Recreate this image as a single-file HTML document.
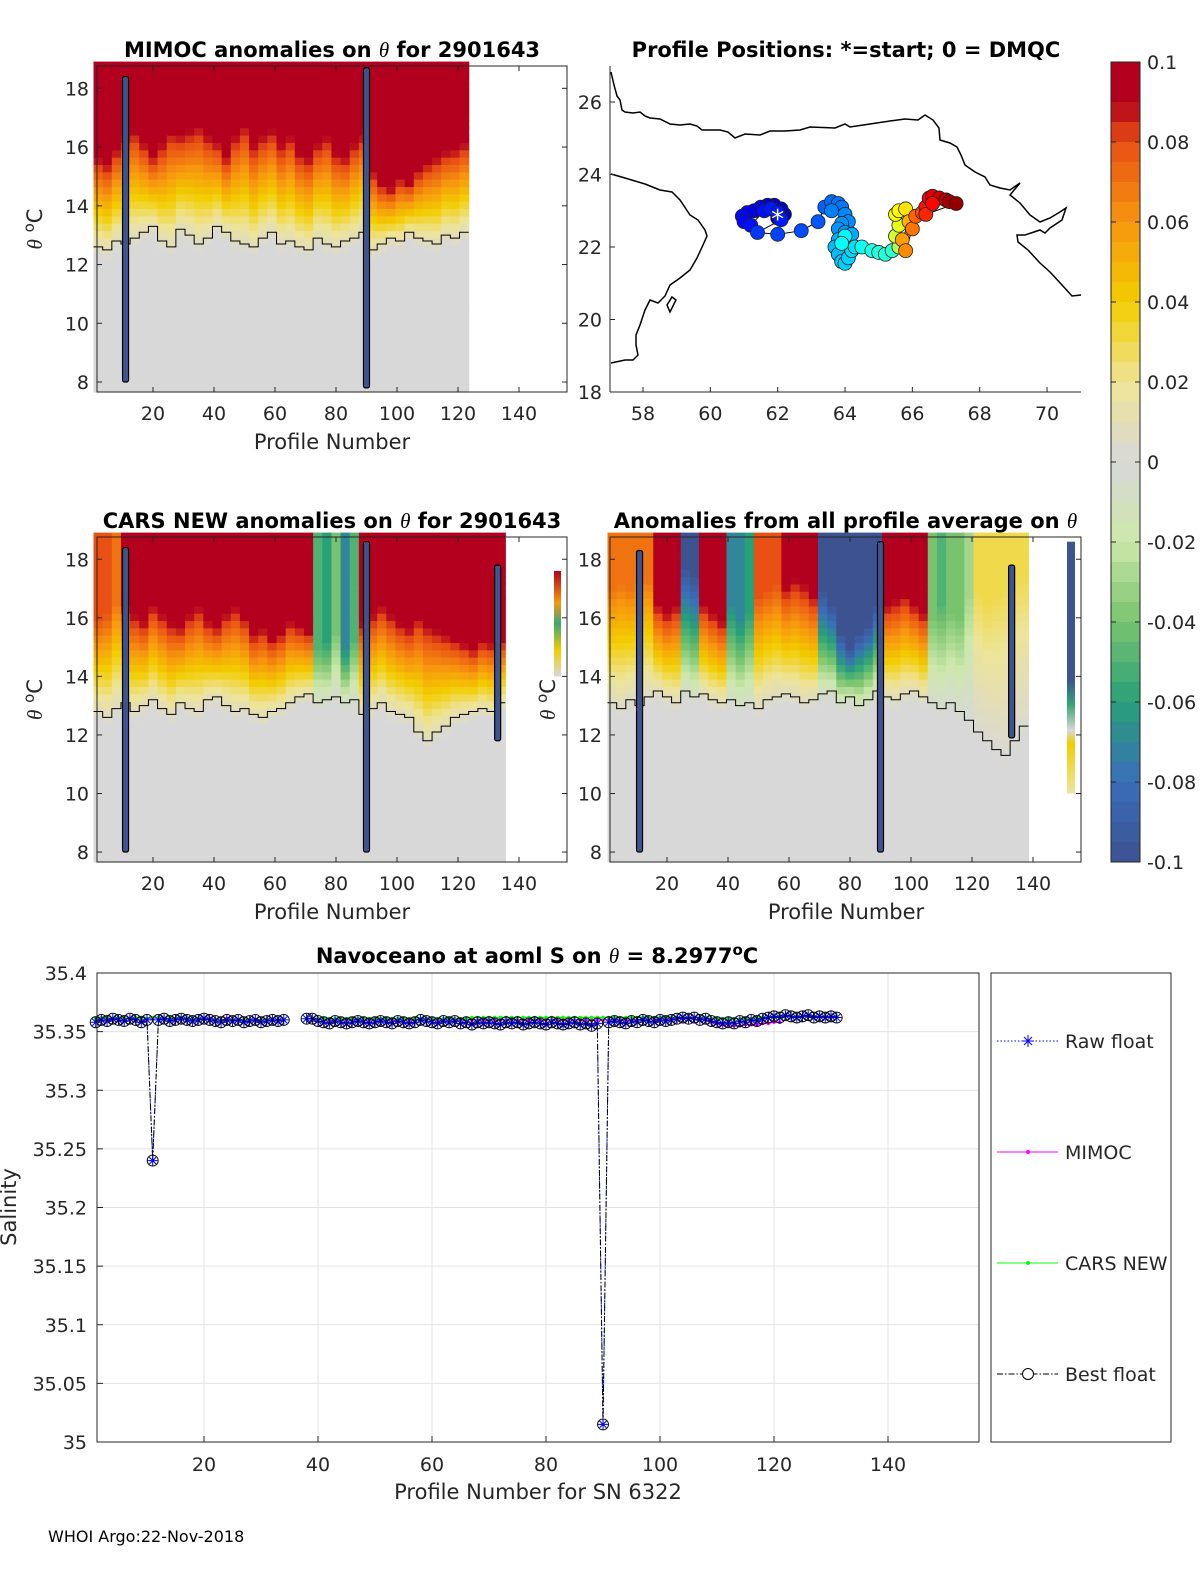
<!DOCTYPE html>
<html><head><meta charset="utf-8">
<style>
html,body{margin:0;padding:0;background:#fff;}
svg{display:block;font-family:"DejaVu Sans","Liberation Sans",sans-serif;}
.tk{font-size:19px;fill:#262626;}
.lab{font-size:21px;fill:#262626;}
.ttl{font-size:21px;font-weight:bold;fill:#000;}
.th{font-family:"Liberation Serif",serif;font-style:italic;font-weight:normal;}
</style></head>
<body>
<svg id="fig" width="1200" height="1575" viewBox="0 0 1200 1575">
</svg>
<script>
// ---------- DATA ----------
const mimocHi   = [0.1,0.1,0.1,0.1,0.1,0.1,0.1,0.1,0.1,0.1, 0.1,0.1,0.1,0.1,0.1,0.1,0.1,0.1,0.1,0.1, 0.1,0.1,0.1,0.1,0.1,0.1,0.1,0.1,0.1,0.1, 0.1,0.1,0.1,0.1,0.1,0.1,0.1,0.1,0.1,0.1,0.1];
const mimocTop  = [16.0,15.8,16.3,16.8,17.0,16.5,16.0,16.5,17.0,16.8, 17.0,17.2,16.8,16.5,16.0,16.8,17.2,16.5,16.8,17.0, 16.5,16.8,16.2,16.0,16.5,16.8,16.2,16.0,16.5,16.8, 15.5,15.0,14.8,15.2,15.0,15.5,15.8,16.0,16.2,16.3,16.5];
const mimocGray = [12.3,12.2,12.5,12.4,12.6,12.8,13.0,12.5,12.3,12.9, 12.7,12.4,12.6,13.0,12.8,12.5,12.4,12.3,12.6,12.8, 12.4,12.5,12.3,12.2,12.6,12.4,12.3,12.5,12.6,12.8, 12.2,12.4,12.6,12.5,12.8,12.6,12.5,12.4,12.7,12.6,12.8];
const carsHi    = [0.08,0.08,0.07,0.1,0.1,0.1,0.1,0.1,0.1,0.1, 0.1,0.1,0.1,0.1,0.1,0.1,0.1,0.1,0.1,0.1, 0.1,0.1,0.1,0.1,-0.05,-0.06,-0.04,-0.07,-0.05,0.1, 0.1,0.1,0.1,0.1,0.1,0.1,0.1,0.1,0.1,0.1, 0.1,0.1,0.1,0.1,0.1];
const carsTop   = [16.0,16.2,16.5,16.8,16.5,16.2,16.8,16.5,16.2,16.0, 16.5,16.8,16.2,16.0,16.5,16.8,16.4,15.8,16.0,15.6, 15.8,16.2,16.0,15.8,15.0,15.2,15.5,15.0,15.3,16.2, 16.5,16.8,16.5,16.2,16.0,16.5,16.2,16.0,15.8,15.6, 15.4,15.2,15.5,15.4,15.5];
const carsGray  = [12.5,12.3,12.6,12.8,12.5,12.7,12.9,12.6,12.4,12.8, 12.6,12.5,12.9,13.0,12.7,12.5,12.6,12.4,12.3,12.5, 12.6,12.8,13.0,13.1,12.8,12.9,13.0,12.8,12.9,12.4, 12.6,12.8,12.5,12.4,12.3,11.8,11.5,11.8,12.0,12.3, 12.4,12.5,12.6,12.5,12.8];
const avgHi     = [0.07,0.07,0.07,0.07,0.07,0.1,0.1,0.1,-0.1,-0.1, 0.1,0.1,0.1,-0.07,-0.07,-0.06,0.08,0.08,0.08,0.1, 0.1,0.1,0.1,-0.1,-0.1,-0.1,-0.1,-0.1,-0.1,-0.1, 0.1,0.1,0.1,0.1,0.1,-0.04,-0.05,-0.04,-0.04,-0.03, 0.03,0.03,0.03,0.03,0.03,0.03];
const avgTop    = [17.0,17.2,17.0,17.5,17.3,16.8,16.5,16.8,17.8,17.5, 16.8,16.5,16.2,16.5,16.0,16.2,16.8,17.0,17.2,17.5, 17.8,17.6,17.2,17.0,16.5,15.5,15.0,15.5,15.8,16.5, 16.8,17.0,17.2,16.8,16.5,16.0,16.5,16.2,16.0,16.8, 17.0,16.5,16.8,17.0,17.5,17.5];
const avgGray   = [12.8,12.6,12.9,12.7,13.0,13.2,13.0,12.8,13.2,13.0, 13.1,12.9,12.8,12.9,12.7,12.8,12.6,12.9,13.0,13.1, 13.0,12.8,12.9,13.1,13.2,12.8,13.0,12.7,12.9,13.2, 13.0,12.9,13.1,13.2,13.0,12.8,12.6,12.8,12.5,12.2, 11.8,11.5,11.2,11.0,11.5,12.0];

// map track (lon, lat, relative profile time 0..1)
const trackLon = [62.0,62.2,62.1,61.9,61.7,61.5,61.3,61.1,60.95,61.0,61.2,61.6,61.8,62.0,62.1, 61.4,62.0,62.7,63.2, 63.4,63.6,63.8,63.9,63.6,64.0,64.1,63.9,63.8,64.0,64.2, 63.8,63.7,63.8,63.9,64.0,64.1,64.2,64.3, 64.0,63.9,64.5,64.8,65.0,65.2,65.4, 65.6,65.5,65.6,65.5,65.6,65.8, 65.9,65.7,65.8,66.0,66.1,66.3, 66.4,66.5,66.6,66.8,67.0,67.1,67.3,66.4,66.6];
const trackLat = [22.8,22.9,23.05,23.15,23.15,23.1,23.0,22.95,22.85,22.7,22.6,23.0,23.05,22.95,22.75, 22.4,22.35,22.45,22.7, 23.1,23.25,23.2,23.1,23.0,22.9,22.7,22.65,22.5,22.4,22.35, 22.2,22.0,21.8,21.6,21.55,21.7,21.9,22.0, 22.3,22.1,22.0,21.9,21.85,21.8,21.9, 22.0,22.3,22.6,22.9,23.0,23.05, 22.7,22.2,21.9,22.5,22.85,22.95, 23.1,23.35,23.4,23.35,23.3,23.25,23.2,22.9,23.2];
const trackTime = [0.05,0.06,0.07,0.08,0.09,0.10,0.11,0.12,0.13,0.13,0.14,0.14,0.15,0.15,0.15, 0.18,0.19,0.20,0.21, 0.22,0.23,0.24,0.24,0.25,0.26,0.26,0.27,0.27,0.28,0.29, 0.30,0.31,0.31,0.32,0.33,0.33,0.34,0.35, 0.37,0.38,0.39,0.40,0.41,0.41,0.42, 0.55,0.58,0.60,0.62,0.63,0.65, 0.70,0.72,0.74,0.76,0.78,0.80, 0.86,0.88,0.90,0.92,0.94,0.96,0.98,0.84,0.87];

// salinity series (profile 1..131)
const profiles = Array.from({length:131},(_,i)=>i+1);
const rawFloat = [35.358,35.360,35.359,35.361,35.360,35.359,35.361,35.360,35.358,35.360,
35.240,35.360,35.361,35.359,35.360,35.361,35.360,35.359,35.360,35.361,
35.360,35.359,35.358,35.360,35.359,35.360,35.358,35.359,35.360,35.358,
35.359,35.360,35.359,35.360,null,null,null,35.361,35.361,35.359,
35.358,35.357,35.359,35.358,35.357,35.358,35.359,35.358,35.357,35.358,
35.359,35.358,35.357,35.359,35.358,35.357,35.358,35.360,35.359,35.358,
35.357,35.359,35.358,35.359,35.357,35.358,35.356,35.358,35.357,35.358,
35.357,35.356,35.358,35.357,35.358,35.356,35.357,35.358,35.357,35.356,
35.358,35.357,35.356,35.357,35.358,35.356,35.357,35.355,35.357,35.015,
35.358,35.359,35.358,35.357,35.359,35.358,35.360,35.359,35.358,35.360,
35.359,35.360,35.361,35.362,35.361,35.362,35.360,35.361,35.359,35.358,
35.357,35.358,35.357,35.359,35.358,35.360,35.359,35.361,35.362,35.363,
35.362,35.364,35.363,35.362,35.363,35.364,35.362,35.363,35.362,35.363,35.362];
const bestFloat = rawFloat.slice();
const mimocS = [35.361,35.361,35.362,35.361,35.361,35.362,35.361,35.361,35.362,35.361,
35.361,35.362,35.361,35.361,35.361,35.362,35.361,35.361,35.361,35.361,
35.361,35.360,35.360,35.361,35.360,35.360,35.360,35.360,35.360,35.360,
35.360,35.360,35.360,35.360,null,null,null,35.361,35.361,35.361,
35.360,35.360,35.360,35.360,35.360,35.360,35.360,35.360,35.360,35.360,
35.360,35.360,35.360,35.360,35.360,35.360,35.360,35.361,35.361,35.360,
35.360,35.360,35.360,35.360,35.360,35.360,35.360,35.360,35.360,35.360,
35.360,35.360,35.360,35.360,35.360,35.360,35.360,35.360,35.360,35.360,
35.360,35.360,35.360,35.360,35.360,35.360,35.360,35.360,35.360,35.360,
35.360,35.360,35.360,35.360,35.360,35.360,35.361,35.361,35.361,35.361,
35.361,35.361,35.361,35.361,35.361,35.361,35.360,35.360,35.358,35.357,
35.356,35.356,35.355,35.355,35.356,35.356,35.356,35.357,35.357,35.358,
35.358,null,null,null,null,null,null,null,null,null,null];
const carsS = [35.361,35.362,35.362,35.361,35.362,35.362,35.361,35.362,35.362,35.361,
35.362,35.362,35.361,35.362,35.361,35.362,35.361,35.361,35.361,35.361,
35.360,35.360,35.360,35.360,35.360,35.360,35.360,35.360,35.360,35.360,
35.360,35.360,35.360,35.360,null,null,null,35.361,35.361,35.361,
35.361,35.361,35.361,35.361,35.361,35.361,35.361,35.361,35.361,35.361,
35.361,35.361,35.361,35.361,35.361,35.361,35.361,35.361,35.361,35.361,
35.361,35.361,35.361,35.361,35.361,35.361,35.362,35.362,35.362,35.362,
35.362,35.362,35.362,35.362,35.362,35.362,35.362,35.362,35.362,35.362,
35.362,35.362,35.362,35.362,35.362,35.362,35.362,35.362,35.362,35.362,
35.362,35.362,35.362,35.362,35.362,35.362,35.362,35.362,35.362,35.362,
35.362,35.362,35.362,35.362,35.362,35.362,35.362,35.362,35.361,35.361,
35.361,35.361,35.361,35.361,35.361,35.361,35.362,35.362,35.362,35.362,
35.363,35.363,35.363,35.363,35.363,35.363,35.363,35.363,35.363,35.363,35.363];

const xTicks = [20,40,60,80,100,120,140];
const thTicks = [8,10,12,14,16,18];
const salTicks = [35,35.05,35.1,35.15,35.2,35.25,35.3,35.35,35.4];
const salTickLabels = ["35","35.05","35.1","35.15","35.2","35.25","35.3","35.35","35.4"];
const lonTicks = [58,60,62,64,66,68,70];
const latTicks = [18,20,22,24,26];
const cbTicks = [0.1,0.08,0.06,0.04,0.02,0,-0.02,-0.04,-0.06,-0.08,-0.1];
const cbLabels = ["0.1","0.08","0.06","0.04","0.02","0","-0.02","-0.04","-0.06","-0.08","-0.1"];

// ---------- HELPERS ----------
const NS="http://www.w3.org/2000/svg";
const svg=document.getElementById('fig');
function mk(tag,attrs,parent){const e=document.createElementNS(NS,tag);for(const k in attrs)e.setAttribute(k,attrs[k]);(parent||svg).appendChild(e);return e;}
function txt(s,x,y,cls,anchor,parent){const t=mk('text',{x:x,y:y,class:cls,'text-anchor':anchor||'middle'},parent);t.textContent=s;return t;}

const stops=[[-0.1,[61,82,145]],[-0.08,[58,110,185]],[-0.06,[40,160,120]],[-0.04,[120,196,110]],[-0.02,[205,232,170]],[0,[216,216,216]],[0.02,[238,228,150]],[0.04,[242,205,0]],[0.06,[247,150,15]],[0.08,[232,80,20]],[0.09,[178,0,30]],[0.1,[178,0,30]]];
function cmap(v){v=Math.max(-0.1,Math.min(0.1,v));for(let i=0;i<stops.length-1;i++){const a=stops[i],b=stops[i+1];if(v<=b[0]){const f=(v-a[0])/(b[0]-a[0]);const c=a[1].map((c0,j)=>Math.round(c0+(b[1][j]-c0)*f));return `rgb(${c[0]},${c[1]},${c[2]})`;}}return 'rgb(178,0,30)';}

// ---------- HEATMAP PANELS ----------
function heatPanel(name,L,T,W,H,x0,hi,top,gray,bars,titleHtml,showYLabel){
  const g=mk('g',{},svg);
  
  
  const xs=p=>x0+p*3.05;
  const ys=th=>T+ (18.76-th)*(H/(18.76-7.66));
  mk('rect',{x:L,y:T,width:W,height:H,fill:'#fff'},g);
  const step=0.25;
  for(let b=0;b<hi.length;b++){
    const pa=b*3+0.5, pb=b*3+3.5;
    for(let th=7.66;th<18.76;th+=step){
      const f=Math.max(0,Math.min(1,(th+step/2-gray[b])/(top[b]-gray[b])));
      const v=hi[b]*f;
      const r=mk('rect',{x:xs(pa),y:ys(th+step),width:xs(pb)-xs(pa)+0.6,height:ys(th)-ys(th+step)+0.6,fill:cmap(v)},g);
      
      
    }
  }
  let d='';
  for(let b=0;b<hi.length;b++){const y=ys(gray[b]+0.3);d+=(b?'L':'M')+xs(b*3+0.5)+','+y+'L'+xs(b*3+3.5)+','+y;}
  const c=mk('path',{d:d,fill:'none',stroke:'#000','stroke-width':1},g);
  
  
  bars.forEach(bb=>{const r=mk('rect',{x:xs(bb[0])-3,y:ys(bb[2]),width:6,height:ys(bb[1])-ys(bb[2]),fill:'#3d5491',stroke:'#000','stroke-width':1.2,rx:2},g);
    });
  mk('rect',{x:L,y:T,width:W,height:H,fill:'none',stroke:'#262626','stroke-width':1},g);
  xTicks.forEach(t=>{const x=xs(t);mk('line',{x1:x,x2:x,y1:T+H,y2:T+H-5,stroke:'#262626'},g);mk('line',{x1:x,x2:x,y1:T,y2:T+5,stroke:'#262626'},g);txt(String(t),x,T+H+28,'tk','middle',g);});
  thTicks.forEach(t=>{const y=ys(t);mk('line',{x1:L,x2:L+5,y1:y,y2:y,stroke:'#262626'},g);mk('line',{x1:L+W,x2:L+W-5,y1:y,y2:y,stroke:'#262626'},g);txt(String(t),L-8,y+7,'tk','end',g);});
  const tt=mk('text',{x:L+W/2,y:T-9,class:'ttl','text-anchor':'middle'},g);tt.innerHTML=titleHtml;
  if(showYLabel){const yl=mk('text',{x:0,y:0,class:'lab','text-anchor':'middle',transform:`translate(${L-55},${T+H/2}) rotate(-90)`},g);yl.innerHTML='<tspan class="th">θ</tspan> <tspan dy="-8" font-size="15">o</tspan><tspan dy="8">C</tspan>';}
  return {xs,ys,g};
}
const TH='<tspan class="th">θ</tspan>';
const p1=heatPanel('mimoc-anomaly-panel',97,66,470,326,92,mimocHi,mimocTop,mimocGray,[[11,8.0,18.4],[90,7.8,18.7]],'MIMOC anomalies on '+TH+'  for 2901643',true);
txt('Profile Number',332,449,'lab','middle');
const p3=heatPanel('cars-anomaly-panel',97,537,470,325,92,carsHi,carsTop,carsGray,[[11,8.0,18.4],[90,8.0,18.6],[133,11.8,17.8]],'CARS NEW anomalies on '+TH+' for 2901643',true);
txt('Profile Number',332,919,'lab','middle');
const p4=heatPanel('profile-average-anomaly-panel',610,537,471,325,606,avgHi,avgTop,avgGray,[[11,8.0,18.3],[90,8.0,18.6],[133,11.9,17.8]],'Anomalies from all profile average on '+TH,true);
txt('Profile Number',846,919,'lab','middle');
(function(){
  const gd=mk('linearGradient',{id:'gcol1',x1:0,y1:0,x2:0,y2:1},svg);
  [[0,'#3d5491'],[0.55,'#3d5491'],[0.65,'#3aa776'],[0.75,'#d8d8d8'],[0.8,'#f2cd00'],[1,'#eee4a0']].forEach(s=>mk('stop',{offset:s[0],'stop-color':s[1]},gd));
  const r=mk('rect',{x:1067,y:p4.ys(18.6),width:8,height:p4.ys(10.0)-p4.ys(18.6),fill:'url(#gcol1)'});
  
  const gd2=mk('linearGradient',{id:'gcol2',x1:0,y1:0,x2:0,y2:1},svg);
  [[0,'#b2001e'],[0.3,'#f59a10'],[0.5,'#3aa776'],[0.75,'#f2cd00'],[1,'#d8d8d8']].forEach(s=>mk('stop',{offset:s[0],'stop-color':s[1]},gd2));
  const r2=mk('rect',{x:554,y:p3.ys(17.6),width:7,height:p3.ys(14.0)-p3.ys(17.6),fill:'url(#gcol2)'});
  
})();

// ---------- MAP ----------
(function(){
  const g=mk('g',{});
  
  const L=610,T=66,W=471,H=326;
  const lx=lon=>643+(lon-58)*33.67, ly=lat=>102+(26-lat)*36.25;
  const coast1='M611,72 L614,85 L617,96 L620,100 L622,110 L625,112 L633,113 L640,112 L645,116 L650,118 L660,119 L670,124 L680,125 L690,124 L697,126 L702,130 L720,130 L728,132 L735,138 L745,134 L760,135 L770,131 L785,131 L800,130 L810,127 L835,128 L845,124 L850,127 L870,124 L890,121 L905,119 L918,120 L925,115 L933,120 L939,128 L940,140 L950,143 L957,147 L961,155 L965,165 L975,172 L985,177 L990,185 L1000,188 L1010,190 L1020,183 L1010,195 L1020,203 L1030,215 L1040,222 L1050,218 L1060,212 L1066,208 L1062,220 L1050,228 L1045,233 L1040,230 L1025,235 L1017,235 L1018,242 L1028,250 L1040,263 L1050,272 L1062,285 L1072,296 L1081,295';
  const coast2='M611,174 L625,178 L645,184 L660,190 L672,192 L680,200 L690,215 L698,220 L705,230 L707,236 L703,245 L697,258 L690,270 L680,278 L670,285 L665,296 L658,303 L650,300 L645,310 L640,325 L636,335 L636,345 L638,355 L633,360 L625,360 L611,363';
  const island='M667,305 L672,297 L676,300 L670,312 Z';
  [coast1,coast2,island].forEach(d=>{const p=mk('path',{d:d,fill:'none',stroke:'#000','stroke-width':1.5},g);});
  let d='';trackLon.forEach((lo,i)=>{d+=(i?'L':'M')+lx(lo)+','+ly(trackLat[i]);});
  mk('path',{d:d,fill:'none',stroke:'#000','stroke-width':1},g);
  const jet=f=>{const r=Math.max(0,Math.min(1,1.5-Math.abs(4*f-3))),gg=Math.max(0,Math.min(1,1.5-Math.abs(4*f-2))),b=Math.max(0,Math.min(1,1.5-Math.abs(4*f-1)));return `rgb(${Math.round(r*255)},${Math.round(gg*255)},${Math.round(b*255)})`;};
  trackLon.forEach((lo,i)=>{const c=mk('circle',{cx:lx(lo),cy:ly(trackLat[i]),r:7,fill:jet(trackTime[i]),stroke:'#222','stroke-width':0.8},g);
    });
  const sx=lx(trackLon[0]),sy=ly(trackLat[0]);
  const st=mk('text',{x:sx,y:sy+10,'text-anchor':'middle','font-size':'26px',fill:'#fff'},g);st.textContent='*';
  
  mk('line',{x1:L,x2:L,y1:T,y2:T+H,stroke:'#262626'},g);
  mk('line',{x1:L,x2:L+W,y1:T+H,y2:T+H,stroke:'#262626'},g);
  lonTicks.forEach(t=>{const x=lx(t);mk('line',{x1:x,x2:x,y1:T+H,y2:T+H-5,stroke:'#262626'},g);txt(String(t),x,T+H+28,'tk','middle',g);});
  latTicks.forEach(t=>{const y=ly(t);mk('line',{x1:L,x2:L+5,y1:y,y2:y,stroke:'#262626'},g);txt(String(t),L-8,y+7,'tk','end',g);});
  txt('Profile Positions: *=start; 0 = DMQC',846,57,'ttl','middle',g);
})();

// ---------- COLORBAR ----------
(function(){
  const g=mk('g',{});
  const T=62,B=862,L=1111,W=29;
  const cy=v=>T+(0.1-v)/0.2*(B-T);
  for(let v=0.1;v>-0.1;v-=0.005){mk('rect',{x:L,y:cy(v),width:W,height:(B-T)*0.005/0.2+0.5,fill:cmap(v-0.0025)},g);}
  mk('rect',{x:L,y:T,width:W,height:B-T,fill:'none',stroke:'#262626'},g);
  cbTicks.forEach((t,i)=>{const y=cy(t);mk('line',{x1:L+W,x2:L+W-5,y1:y,y2:y,stroke:'#262626'},g);mk('line',{x1:L,x2:L+5,y1:y,y2:y,stroke:'#262626'},g);txt(cbLabels[i],L+W+7,y+7,'tk','start',g);});
})();

// ---------- SALINITY TIME SERIES ----------
(function(){
  const g=mk('g',{});
  const L=97,T=973,W=882,H=469;
  const xs=p=>90+p*5.7, ys=s=>T+(35.4-s)*(H/0.4);
  mk('rect',{x:L,y:T,width:W,height:H,fill:'#fff'},g);
  xTicks.forEach(t=>{const x=xs(t);mk('line',{x1:x,x2:x,y1:T,y2:T+H,stroke:'#e3e3e3'},g);});
  salTicks.forEach(t=>{const y=ys(t);mk('line',{x1:L,x2:L+W,y1:y,y2:y,stroke:'#e3e3e3'},g);});
  function line(arr,color,dash,name){let d='',pen=false;arr.forEach((v,i)=>{if(v===null){pen=false;return;}d+=(pen?'L':'M')+xs(profiles[i])+','+ys(v);pen=true;});
    const p=mk('path',{d:d,fill:'none',stroke:color,'stroke-width':1,'stroke-dasharray':dash||'none'},g);}
  line(mimocS,'#ff00ff',null,'mimoc-line');
  line(carsS,'#00ff00',null,'cars-line');
  mimocS.forEach((v,i)=>{if(v===null)return;const c=mk('circle',{cx:xs(profiles[i]),cy:ys(v),r:1.8,fill:'#ff00ff'},g);});
  carsS.forEach((v,i)=>{if(v===null)return;const c=mk('circle',{cx:xs(profiles[i]),cy:ys(v),r:1.8,fill:'#00ff00'},g);});
  line(rawFloat,'#0000ff','1.5,2','raw-float-line');
  line(bestFloat,'#000','6,2,1.5,2','best-float-line');
  rawFloat.forEach((v,i)=>{if(v===null)return;const x=xs(profiles[i]),y=ys(v);
    const s=mk('path',{d:`M${x-5},${y}L${x+5},${y}M${x},${y-5}L${x},${y+5}M${x-3.5},${y-3.5}L${x+3.5},${y+3.5}M${x-3.5},${y+3.5}L${x+3.5},${y-3.5}`,stroke:'#0000ff','stroke-width':1},g);
    });
  bestFloat.forEach((v,i)=>{if(v===null)return;const c=mk('circle',{cx:xs(profiles[i]),cy:ys(v),r:5.5,fill:'none',stroke:'#000','stroke-width':0.9},g);});
  mk('rect',{x:L,y:T,width:W,height:H,fill:'none',stroke:'#262626'},g);
  xTicks.forEach(t=>{const x=xs(t);mk('line',{x1:x,x2:x,y1:T+H,y2:T+H-6,stroke:'#262626'},g);txt(String(t),x,T+H+29,'tk','middle',g);});
  salTicks.forEach((t,i)=>{const y=ys(t);mk('line',{x1:L,x2:L+6,y1:y,y2:y,stroke:'#262626'},g);txt(salTickLabels[i],L-10,y+7,'tk','end',g);});
  const ttl=mk('text',{x:537,y:963,class:'ttl','text-anchor':'middle'},g);ttl.innerHTML='Navoceano at aoml S on <tspan class="th">θ</tspan> = 8.2977<tspan dy="-8" font-size="15">o</tspan><tspan dy="8">C</tspan>';
  txt('Profile Number for SN 6322',538,1499,'lab','middle',g);
  const yl=mk('text',{class:'lab','text-anchor':'middle',transform:'translate(16,1207) rotate(-90)'},g);yl.textContent='Salinity';
})();

// ---------- LEGEND ----------
(function(){
  const g=mk('g',{});
  mk('rect',{x:991,y:973,width:180,height:469,fill:'#fff',stroke:'#262626'},g);
  const items=[['Raw float','#0000ff','1.5,2',1041,'star'],['MIMOC','#ff00ff','none',1152,'dot'],['CARS NEW','#00ff00','none',1263,'dot'],['Best float','#000','6,2,1.5,2',1374,'circ']];
  items.forEach(it=>{const e=mk('g',{},g);
    const y=it[3];mk('line',{x1:997,x2:1058,y1:y,y2:y,stroke:it[1],'stroke-dasharray':it[2]},e);
    if(it[4]==='star')mk('path',{d:`M1022,${y}L1034,${y}M1028,${y-6}L1028,${y+6}M1024,${y-4}L1032,${y+4}M1024,${y+4}L1032,${y-4}`,stroke:it[1]},e);
    if(it[4]==='dot')mk('circle',{cx:1028,cy:y,r:2,fill:it[1]},e);
    if(it[4]==='circ')mk('circle',{cx:1028,cy:y,r:5.5,fill:'#fff',stroke:'#000'},e);
    txt(it[0],1065,y+7,'tk','start',e);});
})();

const foot=txt('WHOI Argo:22-Nov-2018',48,1542,'','start');
foot.setAttribute('font-size','16');


</script>
</body></html>
